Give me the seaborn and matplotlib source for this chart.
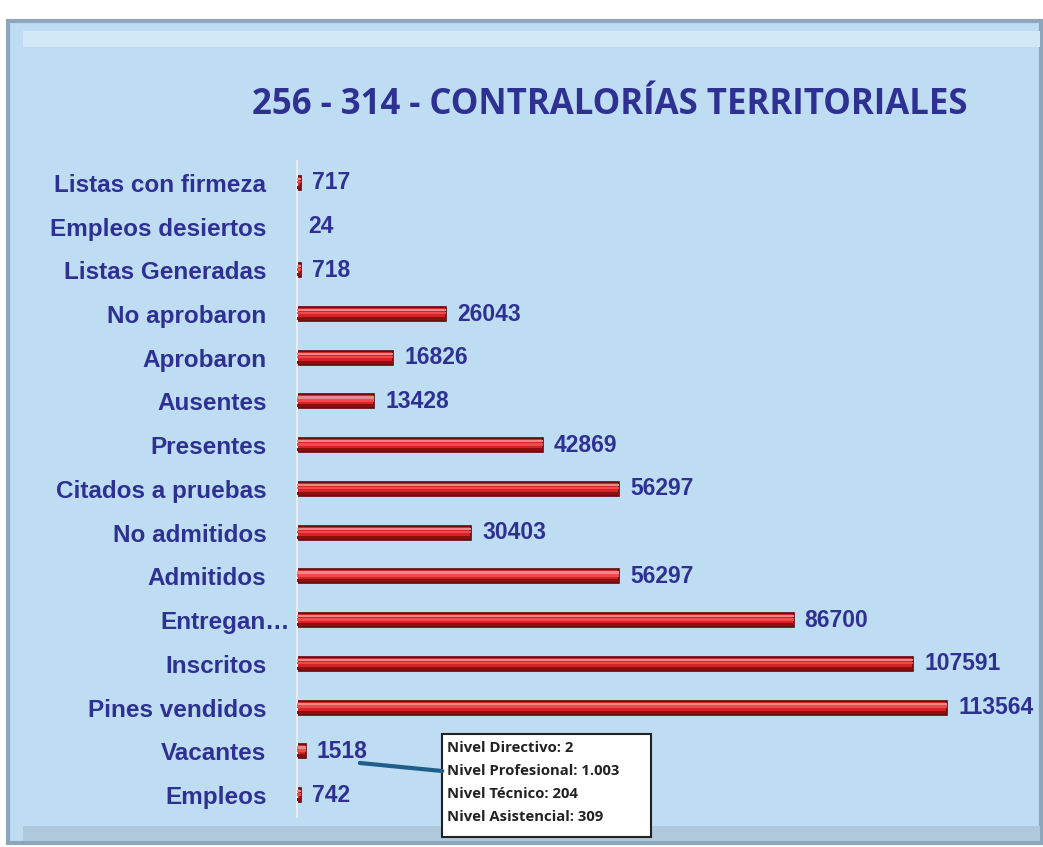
import matplotlib
matplotlib.use('Agg')
import matplotlib.pyplot as plt
import matplotlib.transforms as mtransforms
from matplotlib.patches import Rectangle
import pandas as pd
import seaborn as sns

sns.set_theme(style='white')

categorias = ['Listas con firmeza', 'Empleos desiertos', 'Listas Generadas',
              'No aprobaron', 'Aprobaron', 'Ausentes', 'Presentes',
              'Citados a pruebas', 'No admitidos', 'Admitidos', 'Entregan…',
              'Inscritos', 'Pines vendidos', 'Vacantes', 'Empleos']
valores = [717, 24, 718, 26043, 16826, 13428, 42869, 56297, 30403, 56297,
           86700, 107591, 113564, 1518, 742]
titulo = '256 - 314 - CONTRALORÍAS TERRITORIALES'
detalle_vacantes = ['Nivel Directivo: 2', 'Nivel Profesional: 1.003',
                    'Nivel Técnico: 204', 'Nivel Asistencial: 309']

df = pd.DataFrame({'cat': categorias, 'val': valores})

azul = '#2E3192'
fondo = '#BEDCF2'

fig = plt.figure(figsize=(10.43, 8.47), dpi=100)
fig.patch.set_facecolor('white')

# marco del grafico
fig.patches.append(Rectangle((0.008, 0.005), 0.99, 0.97, transform=fig.transFigure,
                             facecolor=fondo, edgecolor='#8EA6BC', lw=3, zorder=-3))
fig.patches.append(Rectangle((0.022, 0.945), 0.975, 0.018, transform=fig.transFigure,
                             facecolor='#D3E8F7', edgecolor='none', zorder=-2))
fig.patches.append(Rectangle((0.022, 0.007), 0.975, 0.018, transform=fig.transFigure,
                             facecolor='#AFC8DC', edgecolor='none', zorder=-2))

ax = fig.add_axes([0.2848, 0.0354, 0.70, 0.7746])
ax.set_facecolor('none')

sns.barplot(data=df, x='val', y='cat', ax=ax, color='#D42428', width=0.32,
            saturation=1, edgecolor='#5E0808', linewidth=1.2)
# brillo superior y sombra inferior de las barras
pos = range(len(valores))
ax.barh([i - 0.09 for i in pos], valores, height=0.05, color='#E98A8A',
        align='center', zorder=3, linewidth=0)
ax.barh([i - 0.02 for i in pos], valores, height=0.06, color='#F04A4C',
        align='center', zorder=3, linewidth=0)
ax.barh([i + 0.1 for i in pos], valores, height=0.07, color='#8A1010',
        align='center', zorder=3, linewidth=0)

ax.set_xlim(0, 127500)
ax.set_ylim(len(valores) - 0.5, -0.5)
ax.set_xlabel('')
ax.set_ylabel('')
ax.set_xticks([])
for s in ['top', 'right', 'bottom']:
    ax.spines[s].set_visible(False)
ax.spines['left'].set_color('#E6EEF4')
ax.spines['left'].set_linewidth(1.5)
ax.tick_params(axis='y', length=0, pad=22)
for lab in ax.get_yticklabels():
    lab.set_fontfamily('Liberation Sans')
    lab.set_fontweight('bold')
    lab.set_fontsize(17.5)
    lab.set_color(azul)
    if lab.get_text().endswith('…'):
        lab.set_transform(lab.get_transform() +
                          mtransforms.ScaledTranslation(0.23, 0, fig.dpi_scale_trans))

for i, v in enumerate(valores):
    ax.annotate(str(v), (v, i), xytext=(8, 0), textcoords='offset points',
                va='center', ha='left', fontsize=16.5, fontweight='bold',
                color=azul, family='Liberation Sans')

fig.text(0.585, 0.876, titulo, ha='center', va='center', fontsize=25,
         fontweight='bold', color=azul, family='Open Sans', fontstretch='condensed')

# recuadro con el detalle de vacantes
fig.patches.append(Rectangle((0.424, 0.012), 0.2, 0.121, transform=fig.transFigure,
                             facecolor='white', edgecolor='#222222', lw=1.5, zorder=5))
for k, t in enumerate(detalle_vacantes):
    fig.text(0.429, 0.117 - k * 0.0272, t, ha='left', va='center', fontsize=10.7,
             fontweight='bold', color='#222222', family='Open Sans', zorder=6)
fig.add_artist(plt.Line2D([0.345, 0.424], [0.0992, 0.0897], transform=fig.transFigure,
                          color='#1F5D8A', lw=3, zorder=6))

fig.savefig('out.png', dpi=100)
